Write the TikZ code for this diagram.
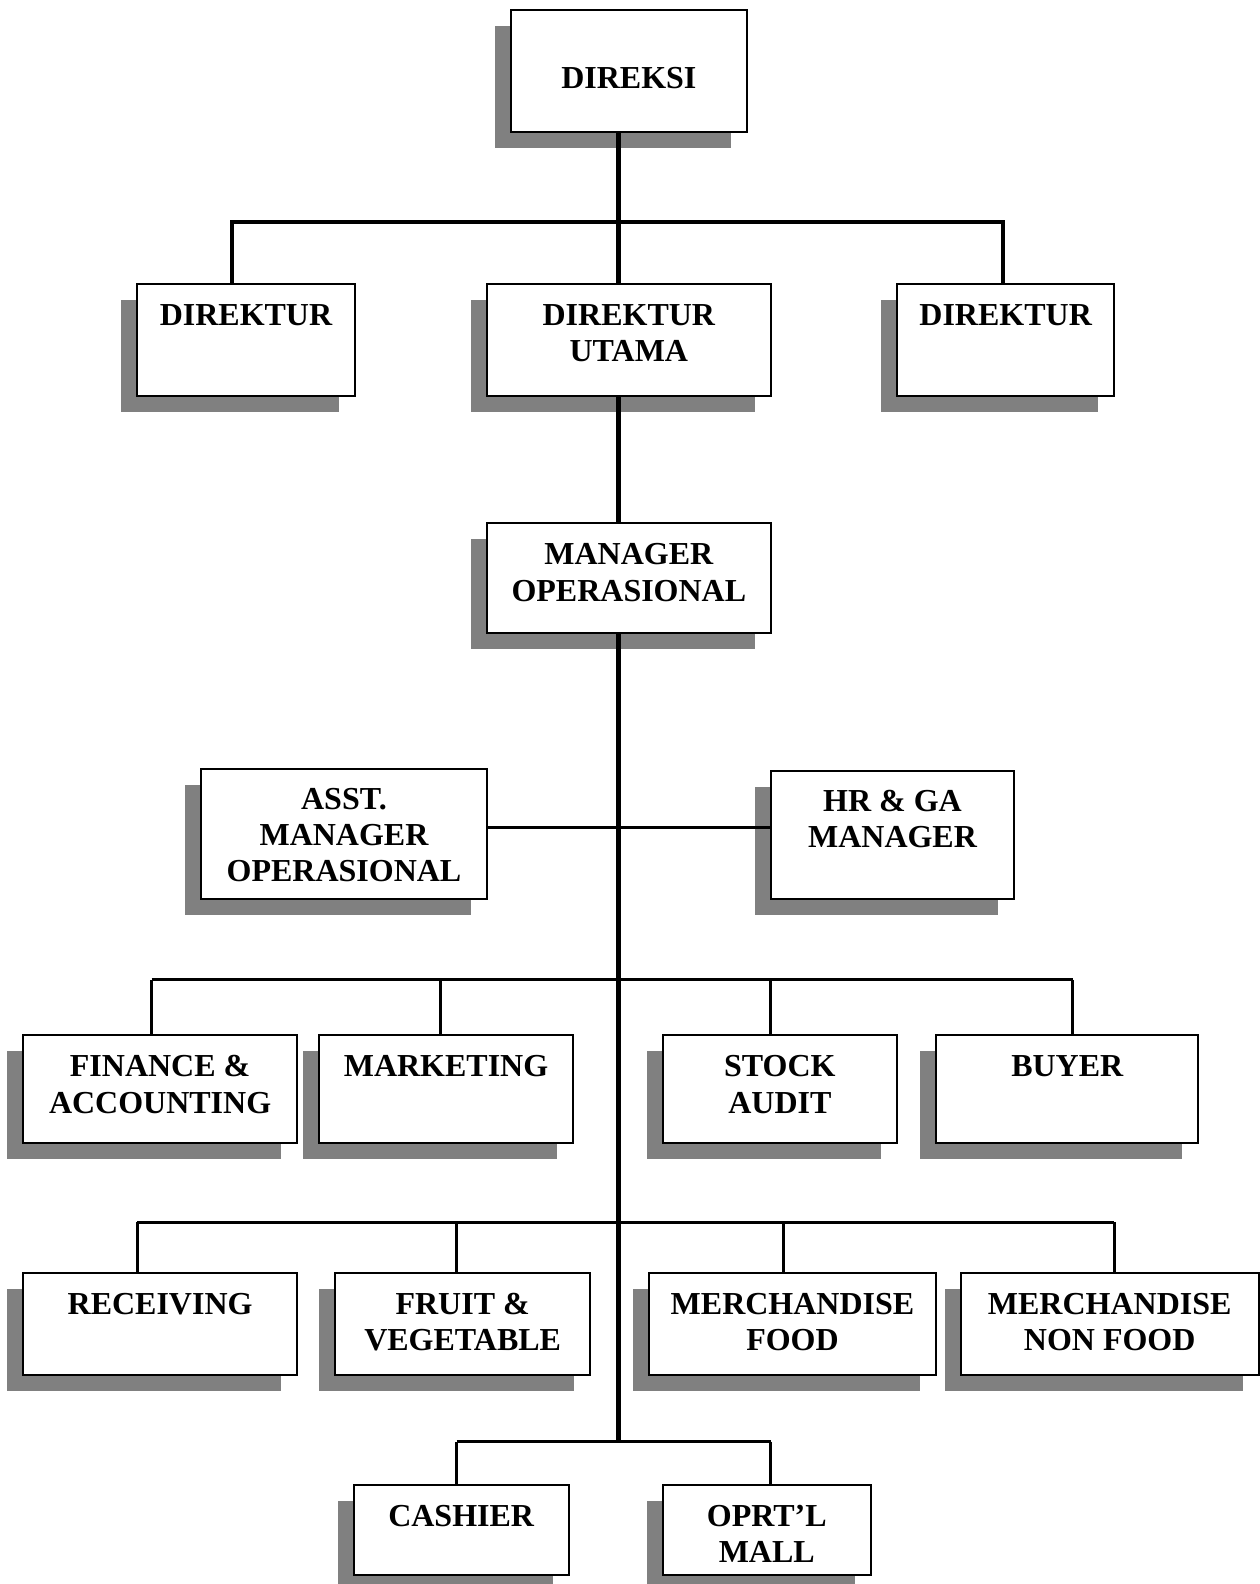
\documentclass[tikz,border=0pt]{standalone}
\usepackage{fontspec}
\setmainfont{Liberation Serif}
\usetikzlibrary{shadows}
\newlength\obW
\newlength\obH
\tikzset{
  orgnode/.style={draw=black, fill=white, line width=1pt, inner sep=0pt, outer sep=0pt,
    font=\fontsize{16}{18.2}\selectfont\bfseries,
    drop shadow={shadow xshift=-8pt, shadow yshift=-8pt, fill=black!50, opacity=1}},
  trunk/.style={line width=2.6pt},
  topbar/.style={line width=2pt},
  lnk/.style={line width=1.5pt}
}
% name, x1, y1, x2, y2, first baseline, text
\newcommand\orgbox[7]{%
  \pgfmathsetlength\obW{(#4-#2)*0.5052pt}%
  \pgfmathsetlength\obH{(#5-#3)*0.5052pt}%
  \node[orgnode] (#1) at ({(#2+#4)/2},{(#3+#5)/2})
    {\parbox[c][\obH][t]{\obW}{\centering\rule{0pt}{#6}#7}};}
\begin{document}
\begin{tikzpicture}[x=0.5052pt, y=-0.5052pt]
\useasboundingbox (0,0) rectangle (1247,1568);
% boxes
\orgbox{direksi}{506}{10}{739}{131}{39.2pt}{DIREKSI}
\orgbox{dl}{136}{281}{351}{392}{20.7pt}{DIREKTUR}
\orgbox{du}{482}{281}{763}{392}{20.7pt}{DIREKTUR\\UTAMA}
\orgbox{dr}{888}{281}{1103}{392}{20.7pt}{DIREKTUR}
\orgbox{mo}{482}{518}{763}{627}{20.7pt}{MANAGER\\OPERASIONAL}
\orgbox{asst}{199}{761}{482}{890}{20.2pt}{ASST.\\MANAGER\\OPERASIONAL}
\orgbox{hr}{763}{763}{1004}{890}{20.2pt}{HR \& GA\\MANAGER}
\orgbox{fin}{23}{1025}{294}{1131}{20.7pt}{FINANCE \&\\ACCOUNTING}
\orgbox{mkt}{316}{1025}{567}{1131}{20.7pt}{MARKETING}
\orgbox{stock}{656}{1025}{888}{1131}{20.7pt}{STOCK\\AUDIT}
\orgbox{buyer}{927}{1025}{1186}{1131}{20.7pt}{BUYER}
\orgbox{rec}{23}{1260}{294}{1361}{20.7pt}{RECEIVING}
\orgbox{fruit}{332}{1260}{584}{1361}{20.7pt}{FRUIT \&\\VEGETABLE}
\orgbox{mf}{642}{1260}{927}{1361}{20.7pt}{MERCHANDISE\\FOOD}
\orgbox{mnf}{951}{1260}{1246}{1361}{20.7pt}{MERCHANDISE\\NON FOOD}
\orgbox{cash}{350}{1470}{563}{1559}{20.7pt}{CASHIER}
\orgbox{oprt}{656}{1470}{862}{1559}{20.7pt}{OPRT’L\\MALL}
% junction coordinates
\coordinate (T) at (612,0);
\coordinate (a1) at (230,220);
\coordinate (a2) at (993,220);
\coordinate (h) at (0,819);
\coordinate (b1) at (150,970);
\coordinate (b2) at (436,970);
\coordinate (b3) at (763,970);
\coordinate (b4) at (1062,970);
\coordinate (c1) at (136,1210);
\coordinate (c2) at (452,1210);
\coordinate (c3) at (776,1210);
\coordinate (c4) at (1103,1210);
\coordinate (e1) at (452,1427);
\coordinate (e2) at (763,1427);
\coordinate (j5) at (612,1427);
% top bar
\draw[topbar] (dl.north -| a1) -- (a1) -- (a2) -- (dr.north -| a2);
% assistant / HR line
\draw[lnk] (asst.east |- h) -- (hr.west |- h);
% row 1
\draw[lnk] (b1) -- (b4);
\draw[lnk] (b1) -- (fin.north -| b1);
\draw[lnk] (b2) -- (mkt.north -| b2);
\draw[lnk] (b3) -- (stock.north -| b3);
\draw[lnk] (b4) -- (buyer.north -| b4);
% row 2
\draw[lnk] (c1) -- (c4);
\draw[lnk] (c1) -- (rec.north -| c1);
\draw[lnk] (c2) -- (fruit.north -| c2);
\draw[lnk] (c3) -- (mf.north -| c3);
\draw[lnk] (c4) -- (mnf.north -| c4);
% row 3
\draw[lnk] (e1) -- (e2);
\draw[lnk] (e1) -- (cash.north -| e1);
\draw[lnk] (e2) -- (oprt.north -| e2);
% trunk
\draw[trunk] (direksi.south -| T) -- (du.north -| T);
\draw[trunk] (du.south -| T) -- (mo.north -| T);
\draw[trunk] (mo.south -| T) -- (j5);
\end{tikzpicture}
\end{document}
